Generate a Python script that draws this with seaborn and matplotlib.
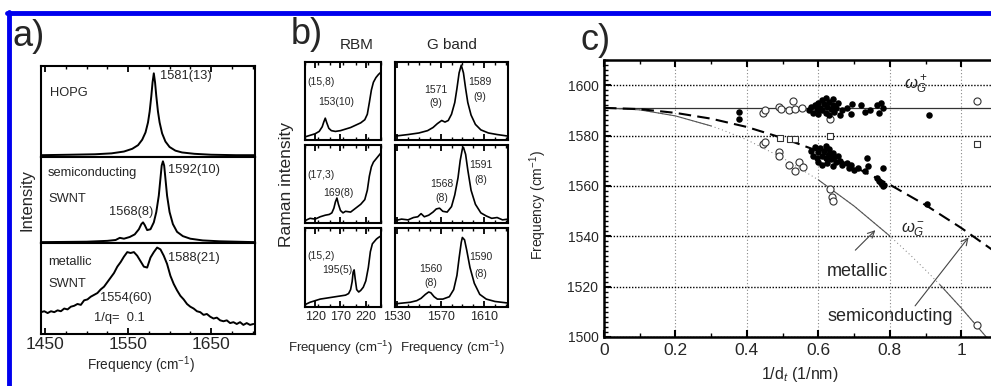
import numpy as np
import matplotlib
matplotlib.use("Agg")
import matplotlib.pyplot as plt
from matplotlib.lines import Line2D
from matplotlib.ticker import MultipleLocator, FixedLocator, FuncFormatter
import seaborn as sns

# ---- panel a: G band spectra (normalised intensity) ----
hopg_f = [1445, 1480, 1510, 1530, 1545, 1555, 1562, 1567, 1571, 1574, 1576, 1578, 1579.5, 1581,
          1582.5, 1584, 1586, 1588, 1591, 1595, 1600, 1607, 1615, 1630, 1650, 1680, 1703]
hopg_i = [0.02, 0.025, 0.03, 0.04, 0.06, 0.09, 0.13, 0.19, 0.27, 0.38, 0.5, 0.67, 0.82, 0.92,
          0.82, 0.67, 0.5, 0.38, 0.26, 0.17, 0.11, 0.07, 0.05, 0.035, 0.025, 0.02, 0.02]

semi_f = [1445, 1500, 1525, 1535, 1540, 1545, 1552, 1558, 1563, 1566, 1568, 1570, 1573, 1577,
          1581, 1584, 1587, 1589, 1590.5, 1592, 1593.5, 1595, 1597, 1600, 1604, 1609, 1616, 1625,
          1640, 1660, 1703]
semi_i = [0.01, 0.015, 0.025, 0.035, 0.06, 0.05, 0.07, 0.1, 0.16, 0.22, 0.24, 0.21, 0.15, 0.16,
          0.24, 0.36, 0.55, 0.75, 0.9, 0.95, 0.9, 0.75, 0.55, 0.36, 0.22, 0.13, 0.08, 0.05,
          0.03, 0.02, 0.01]

metal_f = [1445, 1449, 1453, 1457, 1461, 1465, 1469, 1473, 1477, 1481, 1485, 1489, 1493, 1497,
           1501, 1505, 1509, 1513, 1517, 1521, 1525, 1529, 1533, 1537, 1541, 1545, 1549, 1553,
           1557, 1561, 1565, 1569, 1573, 1577, 1581, 1585, 1589, 1593, 1597, 1601, 1605, 1609,
           1613, 1617, 1621, 1625, 1629, 1633, 1637, 1641, 1645, 1649, 1653, 1657, 1661, 1665,
           1669, 1673, 1677, 1681, 1685, 1689, 1693, 1697, 1701]
metal_i = [0.24, 0.25, 0.23, 0.25, 0.24, 0.26, 0.25, 0.28, 0.27, 0.30, 0.31, 0.33, 0.32, 0.37,
           0.38, 0.41, 0.43, 0.45, 0.49, 0.52, 0.57, 0.62, 0.67, 0.74, 0.79, 0.85, 0.90, 0.89,
           0.90, 0.86, 0.80, 0.74, 0.73, 0.84, 0.90, 0.95, 0.93, 0.86, 0.77, 0.64, 0.55, 0.48,
           0.42, 0.38, 0.33, 0.30, 0.28, 0.25, 0.24, 0.21, 0.22, 0.19, 0.17, 0.18, 0.15, 0.14,
           0.15, 0.12, 0.13, 0.11, 0.13, 0.10, 0.12, 0.10, 0.11]

# ---- panel b: single-tube RBM and G band spectra ----
rbm1_f = [100, 110, 120, 128, 134, 137, 140, 143, 147, 152, 160, 170, 180, 190, 200, 210, 218,
          223, 227, 231, 235, 240, 245, 250]
rbm1_i = [0.04, 0.06, 0.08, 0.11, 0.17, 0.23, 0.28, 0.22, 0.15, 0.12, 0.11, 0.12, 0.14, 0.16,
          0.19, 0.22, 0.26, 0.33, 0.48, 0.64, 0.74, 0.8, 0.84, 0.87]
rbm2_f = [100, 110, 120, 130, 140, 148, 153, 157, 160, 163, 166, 170, 175, 180, 190, 200, 210,
          218, 223, 227, 231, 235, 240, 245, 250]
rbm2_i = [0.03, 0.06, 0.05, 0.08, 0.1, 0.11, 0.13, 0.19, 0.27, 0.32, 0.24, 0.16, 0.13, 0.15,
          0.14, 0.19, 0.24, 0.3, 0.42, 0.6, 0.72, 0.78, 0.82, 0.86, 0.9]
rbm3_f = [100, 110, 120, 130, 140, 150, 160, 170, 180, 186, 190, 193, 195, 197, 199, 202, 206,
          210, 215, 220, 225, 229, 233, 237, 241, 245, 250]
rbm3_i = [0.03, 0.06, 0.08, 0.1, 0.11, 0.12, 0.13, 0.14, 0.15, 0.17, 0.22, 0.32, 0.44, 0.47,
          0.36, 0.22, 0.19, 0.21, 0.25, 0.33, 0.5, 0.7, 0.8, 0.83, 0.86, 0.88, 0.9]

g1_f = [1528, 1540, 1550, 1558, 1563, 1567, 1571, 1574, 1577, 1580, 1583, 1585, 1587, 1589,
        1591, 1593, 1595, 1598, 1602, 1607, 1614, 1622, 1632]
g1_i = [0.05, 0.07, 0.09, 0.12, 0.16, 0.21, 0.25, 0.23, 0.25, 0.33, 0.48, 0.66, 0.86, 0.96,
        0.86, 0.66, 0.48, 0.32, 0.2, 0.13, 0.09, 0.07, 0.05]
g2_f = [1528, 1534, 1540, 1545, 1549, 1552, 1555, 1559, 1563, 1566, 1569, 1572, 1576, 1580,
        1583, 1586, 1588, 1590, 1591, 1593, 1595, 1598, 1602, 1607, 1612, 1617, 1622, 1627, 1632]
g2_i = [0.03, 0.05, 0.04, 0.07, 0.08, 0.12, 0.08, 0.1, 0.14, 0.18, 0.19, 0.15, 0.14, 0.21,
        0.36, 0.58, 0.8, 0.95, 0.97, 0.88, 0.68, 0.42, 0.24, 0.13, 0.09, 0.06, 0.07, 0.04, 0.05]
g3_f = [1528, 1535, 1542, 1548, 1552, 1556, 1559, 1561, 1564, 1567, 1572, 1578, 1582, 1585,
        1587, 1589, 1590, 1592, 1594, 1597, 1601, 1606, 1612, 1620, 1632]
g3_i = [0.04, 0.05, 0.06, 0.08, 0.11, 0.16, 0.19, 0.18, 0.13, 0.1, 0.1, 0.13, 0.22, 0.4,
        0.62, 0.82, 0.88, 0.85, 0.72, 0.5, 0.3, 0.16, 0.1, 0.07, 0.05]

# ---- panel c: G band frequency vs inverse diameter ----
up_x = [0.379, 0.379, 0.575, 0.58, 0.585, 0.59, 0.595, 0.6, 0.6, 0.605, 0.61, 0.61, 0.615, 0.62,
        0.62, 0.625, 0.63, 0.63, 0.635, 0.64, 0.64, 0.645, 0.65, 0.655, 0.66, 0.665, 0.68,
        0.69, 0.695, 0.72, 0.73, 0.745, 0.765, 0.77, 0.78, 0.775, 0.909]
up_y = [1589.5, 1586.6, 1590, 1591.5, 1589, 1592, 1590.5, 1593, 1588.5, 1591, 1594, 1590,
        1592.5, 1595, 1589, 1591.5, 1593.5, 1588, 1590.5, 1594.5, 1592, 1589.5, 1591, 1593,
        1588, 1590, 1591, 1588.5, 1592.5, 1592, 1589.5, 1590, 1592, 1589, 1591, 1593, 1588.3]
low_x = [0.58, 0.585, 0.59, 0.595, 0.6, 0.6, 0.605, 0.61, 0.61, 0.615, 0.62, 0.62, 0.625, 0.63,
         0.63, 0.635, 0.64, 0.64, 0.645, 0.65, 0.655, 0.66, 0.665, 0.68, 0.685, 0.69, 0.70,
         0.71, 0.73, 0.735, 0.74, 0.765, 0.77, 0.775, 0.78, 0.785, 0.78, 0.904]
low_y = [1574, 1572, 1575.5, 1571, 1573.5, 1569.5, 1575, 1572, 1568.5, 1574, 1571, 1576, 1569,
         1572.5, 1574.5, 1570.5, 1573, 1568, 1571.5, 1569.5, 1572, 1570, 1568.5, 1569, 1567,
         1568.5, 1566.5, 1567, 1566, 1571, 1568, 1563, 1562, 1561, 1560, 1560.5, 1567, 1553]
open_x = [0.444, 0.45, 0.49, 0.495, 0.519, 0.53, 0.535, 0.553, 0.633, 1.044, 0.445, 0.451,
          0.491, 0.491, 0.519, 0.535, 0.545, 0.558, 0.633, 0.638, 0.64, 1.044]
open_y = [1588.8, 1590, 1591.3, 1590.5, 1590, 1593.6, 1590.4, 1591, 1586.6, 1593.9, 1576.5,
          1577.4, 1573.4, 1572, 1568.4, 1566, 1569.5, 1567.6, 1558.9, 1555.6, 1554.2, 1504.7]
sq_x = [0.493, 0.52, 0.535, 0.633, 1.044]
sq_y = [1579, 1578.5, 1578.5, 1579.7, 1576.7]

# fitted curves
semi_fit_x = [0, 0.1, 0.2, 0.3, 0.4, 0.5, 0.6, 0.7, 0.8, 0.9, 1.0, 1.1]
semi_fit_y = [1591, 1590.5, 1589, 1586.7, 1583.4, 1579, 1573.8, 1567.6, 1560.5, 1552.4, 1543.3,
              1533.3]
met_fit_x = [0, 0.1, 0.2, 0.3, 0.33, 0.4, 0.5, 0.6, 0.7, 0.8, 0.86, 0.9, 0.94, 1.0, 1.07]
met_fit_y = [1591, 1590.2, 1587.8, 1583.8, 1582.3, 1578.3, 1571.1, 1562.4, 1552.0, 1540.1,
             1532.2, 1526.6, 1520.8, 1511.5, 1500.0]
met_fit_solid = [True, True, True, True, False, False, False, True, True, True, False, False,
                 True, True, True]
g_plus = 1591

sns.set_theme(style="white")
plt.rcParams['font.family'] = ['Liberation Sans', 'DejaVu Sans']
plt.rcParams['mathtext.fontset'] = 'custom'
plt.rcParams['mathtext.rm'] = 'Liberation Sans'
plt.rcParams['mathtext.it'] = 'Liberation Sans:italic'
plt.rcParams['mathtext.sf'] = 'Liberation Sans'

W, H = 991, 386
fig = plt.figure(figsize=(W / 100, H / 100), dpi=100)


def box(x0, y0, x1, y1):
    return [x0 / W, 1 - y1 / H, (x1 - x0) / W, (y1 - y0) / H]


def spectrum(ax, f, i, lw=1.3):
    sns.lineplot(x=f, y=i, ax=ax, color='black', lw=lw, estimator=None, sort=False)


def frame(ax, xlim, majors, minor, top=True, bottom=True, labels=False, lsize=9, pad=3):
    ax.set_xlim(*xlim)
    ax.set_ylim(0, 1)
    ax.set_yticks([])
    ax.set_xlabel('')
    ax.set_ylabel('')
    for s in ax.spines.values():
        s.set_linewidth(1.5)
        s.set_color('black')
    ax.xaxis.set_major_locator(FixedLocator(majors))
    ax.xaxis.set_minor_locator(MultipleLocator(minor))
    ax.tick_params(axis='x', which='both', direction='in', top=top, bottom=bottom,
                   labelbottom=labels, color='black', labelsize=lsize, pad=pad)
    ax.tick_params(axis='x', which='major', length=4, width=1.3)
    ax.tick_params(axis='x', which='minor', length=2.5, width=1.0)


# blue frame
fig.add_artist(Line2D([7 / W, 1], [1 - 13 / H] * 2, color='#0000ee', lw=3.5))
fig.add_artist(Line2D([9 / W] * 2, [0, 1 - 11.5 / H], color='#0000ee', lw=3.5))

# ---------------- panel a ----------------
rows_a = [(66, 157), (157, 243), (243, 334)]
specs_a = [(hopg_f, hopg_i), (semi_f, semi_i), (metal_f, metal_i)]
axes_a = []
for k, ((y0, y1), (f, i)) in enumerate(zip(rows_a, specs_a)):
    ax = fig.add_axes(box(41, y0, 255, y1))
    spectrum(ax, f, i, lw=1.4)
    frame(ax, (1445, 1703), [1450, 1550, 1650], 25, top=(k == 0), bottom=(k == 2),
          labels=(k == 2), lsize=12.5, pad=2)
    axes_a.append(ax)

a1, a2, a3 = axes_a
tk = dict(fontsize=9.3, va='center', ha='left')
a1.text(0.042, 0.70, 'HOPG', transform=a1.transAxes, **tk)
a1.text(0.556, 0.89, '1581(13)', transform=a1.transAxes, **tk)
a2.text(0.033, 0.81, 'semiconducting', transform=a2.transAxes, **tk)
a2.text(0.033, 0.51, 'SWNT', transform=a2.transAxes, **tk)
a2.text(0.32, 0.36, '1568(8)', transform=a2.transAxes, **tk)
a2.text(0.593, 0.85, '1592(10)', transform=a2.transAxes, **tk)
a3.text(0.033, 0.79, 'metallic', transform=a3.transAxes, **tk)
a3.text(0.033, 0.55, 'SWNT', transform=a3.transAxes, **tk)
a3.text(0.593, 0.835, '1588(21)', transform=a3.transAxes, **tk)
a3.text(0.276, 0.40, '1554(60)', transform=a3.transAxes, **tk)
a3.text(0.25, 0.18, '1/q=  0.1', transform=a3.transAxes, **tk)
fig.text(27 / W, 1 - 200 / H, 'Intensity', rotation=90, fontsize=12, ha='center', va='center')
fig.text(141 / W, 1 - 365 / H, 'Frequency (cm$^{-1}$)', fontsize=9.8, ha='center',
         va='center')
fig.text(12 / W, 1 - 19 / H, 'a)', fontsize=26, ha='left', va='top')

# ---------------- panel b ----------------
rows_b = [(62, 140), (145, 223), (228, 307)]
rbm = [(rbm1_f, rbm1_i), (rbm2_f, rbm2_i), (rbm3_f, rbm3_i)]
gb = [(g1_f, g1_i), (g2_f, g2_i), (g3_f, g3_i)]
axes_r, axes_g = [], []
for k, (y0, y1) in enumerate(rows_b):
    ar = fig.add_axes(box(305, y0, 381, y1))
    spectrum(ar, *rbm[k], lw=1.2)
    frame(ar, (100, 250), [120, 170, 220], 25, labels=(k == 2), lsize=9)
    ag = fig.add_axes(box(395, y0, 508, y1))
    spectrum(ag, *gb[k], lw=1.2)
    frame(ag, (1528, 1632), [1530, 1570, 1610], 10, labels=(k == 2), lsize=9)
    axes_r.append(ar)
    axes_g.append(ag)

sk = dict(fontsize=7.5, va='center')
axes_r[0].text(0.03, 0.74, '(15,8)', transform=axes_r[0].transAxes, ha='left', **sk)
axes_r[0].text(0.17, 0.49, '153(10)', transform=axes_r[0].transAxes, ha='left', **sk)
axes_r[1].text(0.03, 0.62, '(17,3)', transform=axes_r[1].transAxes, ha='left', **sk)
axes_r[1].text(0.24, 0.38, '169(8)', transform=axes_r[1].transAxes, ha='left', **sk)
axes_r[2].text(0.03, 0.64, '(15,2)', transform=axes_r[2].transAxes, ha='left', **sk)
axes_r[2].text(0.22, 0.47, '195(5)', transform=axes_r[2].transAxes, ha='left', **sk)

g1, g2, g3 = axes_g
g1.text(0.365, 0.64, '1571', transform=g1.transAxes, ha='center', **sk)
g1.text(0.365, 0.47, '(9)', transform=g1.transAxes, ha='center', **sk)
g1.text(0.75, 0.74, '1589', transform=g1.transAxes, ha='center', **sk)
g1.text(0.75, 0.55, '(9)', transform=g1.transAxes, ha='center', **sk)
g2.text(0.41, 0.50, '1568', transform=g2.transAxes, ha='center', **sk)
g2.text(0.41, 0.32, '(8)', transform=g2.transAxes, ha='center', **sk)
g2.text(0.76, 0.74, '1591', transform=g2.transAxes, ha='center', **sk)
g2.text(0.76, 0.55, '(8)', transform=g2.transAxes, ha='center', **sk)
g3.text(0.32, 0.48, '1560', transform=g3.transAxes, ha='center', **sk)
g3.text(0.32, 0.30, '(8)', transform=g3.transAxes, ha='center', **sk)
g3.text(0.76, 0.63, '1590', transform=g3.transAxes, ha='center', **sk)
g3.text(0.76, 0.42, '(8)', transform=g3.transAxes, ha='center', **sk)

fig.text(287 / W, 1 - 185 / H, 'Raman intensity', rotation=90, fontsize=12.5,
         ha='center', va='center')
fig.text(340 / W, 1 - 348 / H, 'Frequency (cm$^{-1}$)', fontsize=9.5, ha='center', va='center')
fig.text(452 / W, 1 - 348 / H, 'Frequency (cm$^{-1}$)', fontsize=9.5, ha='center', va='center')
fig.text(357 / W, 1 - 45 / H, 'RBM', fontsize=11, ha='center', va='center')
fig.text(452 / W, 1 - 45 / H, 'G band', fontsize=11, ha='center', va='center')
fig.text(291 / W, 1 - 17 / H, 'b)', fontsize=26, ha='left', va='top')

# ---------------- panel c ----------------
axc = fig.add_axes(box(604, 60, 997, 337))
axc.set_xlim(0, 1.1)
axc.set_ylim(1500, 1610)
axc.grid(axis='y', color='black', ls=(0, (1, 1.2)), lw=1.0)
axc.grid(axis='x', color='#888888', ls=(0, (1, 2)), lw=0.8)
axc.axhline(g_plus, color='#333333', lw=0.9)

# metallic fit: faint dotted underneath, solid where the original is drawn solid
sns.lineplot(x=met_fit_x, y=met_fit_y, ax=axc, color='#777777', lw=0.7, estimator=None,
             sort=False, linestyle=(0, (1, 3)))
mx = [x if s else np.nan for x, s in zip(met_fit_x, met_fit_solid)]
my = [y if s else np.nan for y, s in zip(met_fit_y, met_fit_solid)]
axc.plot(mx, my, color='#555555', lw=0.8)
sns.lineplot(x=semi_fit_x, y=semi_fit_y, ax=axc, color='black', lw=1.5, estimator=None,
             sort=False, linestyle=(0, (6, 3)))
sns.scatterplot(x=up_x + low_x, y=up_y + low_y, ax=axc, color='black', s=22, linewidth=0,
                zorder=4)
sns.scatterplot(x=open_x, y=open_y, ax=axc, facecolor='white', edgecolor='#333333', s=26,
                linewidth=0.8, zorder=3)
sns.scatterplot(x=sq_x, y=sq_y, ax=axc, marker='s', facecolor='white', edgecolor='#333333',
                s=18, linewidth=0.8, zorder=3)
axc.set_xlabel('')
axc.set_ylabel('')
axc.xaxis.set_major_locator(MultipleLocator(0.2))
axc.xaxis.set_minor_locator(MultipleLocator(0.1))
axc.yaxis.set_major_locator(MultipleLocator(20))
axc.yaxis.set_minor_locator(MultipleLocator(2))
axc.xaxis.set_major_formatter(FuncFormatter(lambda v, p: f'{v:g}'))
axc.tick_params(axis='both', which='both', direction='in', top=True, bottom=True, left=True,
                right=False, color='black')
axc.tick_params(axis='both', which='major', length=5, width=1.5)
axc.tick_params(axis='both', which='minor', length=3, width=1.0)
axc.tick_params(axis='x', labelsize=12.5, pad=4)
axc.tick_params(axis='y', labelsize=10, pad=4)
for s in axc.spines.values():
    s.set_linewidth(1.8)
    s.set_color('black')

axc.annotate('', xy=(0.765, 1543.2), xytext=(0.698, 1533.7),
             arrowprops=dict(arrowstyle='->', color='#444444', lw=0.8))
axc.annotate('', xy=(1.025, 1540.4), xytext=(0.866, 1511.5),
             arrowprops=dict(arrowstyle='->', color='#444444', lw=0.8))
axc.text(0.625, 1526, 'metallic', fontsize=13, ha='left', va='center')
axc.text(0.625, 1508, 'semiconducting', fontsize=13, ha='left', va='center')
axc.text(0.84, 1600, r'$\omega_G^+$', fontsize=12, ha='left', va='center')
axc.text(0.83, 1543, r'$\omega_G^-$', fontsize=12, ha='left', va='center')

fig.text(538 / W, 1 - 205 / H, 'Frequency (cm$^{-1}$)', rotation=90, fontsize=10,
         ha='center', va='center')
fig.text(800 / W, 1 - 375 / H, '1/d$_t$ (1/nm)', fontsize=11.5, ha='center', va='center')
fig.text(581 / W, 1 - 23 / H, 'c)', fontsize=26, ha='left', va='top')

fig.savefig('out.png', dpi=100)
